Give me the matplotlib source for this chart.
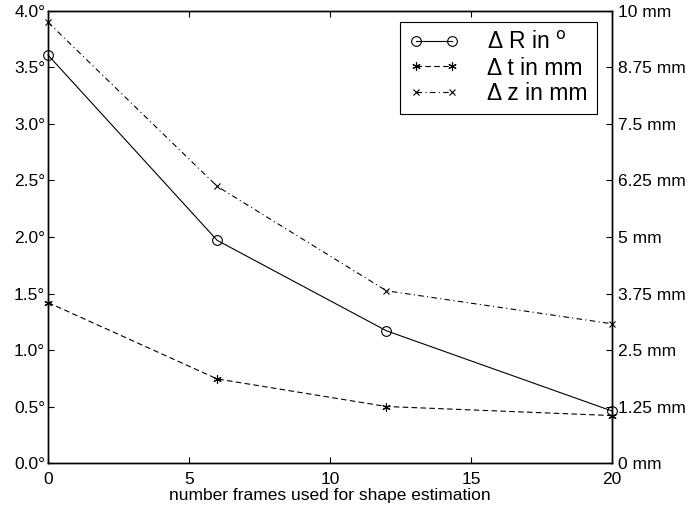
import numpy as np
import matplotlib.pyplot as plt

plt.rcParams['font.family'] = ['Liberation Sans', 'DejaVu Sans']

frames = [0, 6, 12, 20]
dR_deg = [3.61, 1.97, 1.17, 0.46]
dt_mm = [3.55, 1.86, 1.25, 1.05]
dz_mm = [9.75, 6.12, 3.81, 3.08]

left_ticks = [0.0, 0.5, 1.0, 1.5, 2.0, 2.5, 3.0, 3.5, 4.0]
right_ticks = [0, 1.25, 2.5, 3.75, 5, 6.25, 7.5, 8.75, 10]
right_labels = ["0 mm", "1.25 mm", "2.5 mm", "3.75 mm", "5 mm",
                "6.25 mm", "7.5 mm", "8.75 mm", "10 mm"]

fig = plt.figure(figsize=(6.88, 5.11), dpi=100)
ax = fig.add_axes([0.0698, 0.0939, 0.8198, 0.8846])
ax2 = ax.twinx()

# asterisk marker like matlab
star = (6, 2, 0)

l1, = ax.plot(frames, dR_deg, '-', color='k', lw=0.8, marker='o',
              mfc='none', ms=7, mew=0.8, clip_on=False)
l2, = ax2.plot(frames, dt_mm, '--', color='k', lw=0.8, marker=star,
               ms=6, mew=0.8, dashes=(5, 3), clip_on=False)
l3, = ax2.plot(frames, dz_mm, '-.', color='k', lw=0.8, marker='x',
               ms=4, mew=0.8, dashes=(5, 3, 1, 3), clip_on=False)

ax.set_xlim(0, 20)
ax.set_ylim(0, 4)
ax2.set_ylim(0, 10)
ax.set_xticks([0, 5, 10, 15, 20])
ax.set_yticks(left_ticks)
ax.set_yticklabels(["%.1f°" % v for v in left_ticks])
ax2.set_yticks(right_ticks)
ax2.set_yticklabels(right_labels)

ax.tick_params(axis='y', direction='in', labelsize=12.5, length=4, pad=2)
ax.tick_params(axis='x', direction='in', top=True, labelsize=12.5, length=4, pad=6.5)
ax2.tick_params(direction='in', labelsize=12.5, length=4, pad=4)
for a in (ax, ax2):
    for s in a.spines.values():
        s.set_linewidth(1.0)

ax.set_xlabel("number frames used for shape estimation", fontsize=12.5, labelpad=1)

leg = ax.legend([l1, l2, l3], ["Δ R in $^\\mathrm{o}$", "Δ t in mm", "Δ z in mm"],
                loc='upper right', bbox_to_anchor=(0.973, 0.9755), borderaxespad=0,
                fontsize=16.5, numpoints=2, handlelength=2.15, fancybox=False,
                framealpha=1, edgecolor='k', borderpad=0.4, labelspacing=0.1,
                handletextpad=1.25)
leg.get_frame().set_linewidth(0.8)

fig.savefig("out.png", dpi=100)
